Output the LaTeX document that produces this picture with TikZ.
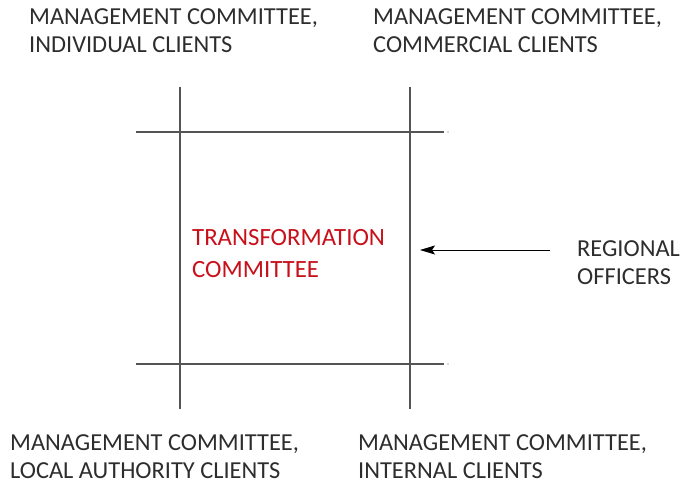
\documentclass[tikz,border=0pt]{standalone}
\usepackage{fontspec}
\setmainfont{Carlito}
\usetikzlibrary{arrows.meta}
\definecolor{inkgray}{RGB}{45,45,45}
\definecolor{rulegray}{RGB}{85,85,85}
\definecolor{tcred}{RGB}{200,16,26}
\begin{document}
\begin{tikzpicture}[x=1pt,y=-1pt,
  label/.style={anchor=base west,inner sep=0pt,align=left,text=inkgray,
    font=\fontsize{24.4}{28}\selectfont},
  grid/.style={draw=rulegray,line width=1.3pt},
  feed/.style={draw=black,line width=0.9pt,-{Stealth[length=15pt,width=9pt,inset=3pt]}}]
\useasboundingbox (0,0) rectangle (682,486);
% quadrant labels (anchored at the baseline of their last line)
\node[label] (ind) at (29,53) {MANAGEMENT COMMITTEE,\\INDIVIDUAL CLIENTS};
\node[label] (com) at (373,53) {MANAGEMENT COMMITTEE,\\COMMERCIAL CLIENTS};
\node[label] (loc) at (10,478.5) {MANAGEMENT COMMITTEE,\\LOCAL AUTHORITY CLIENTS};
\node[label] (int) at (358,478.5) {MANAGEMENT COMMITTEE,\\INTERNAL CLIENTS};
% central committee
\node[label,text=tcred,font=\fontsize{24.8}{32}\selectfont] (tc) at (192,277.5) {TRANSFORMATION\\COMMITTEE};
% regional input
\node[label] (reg) at (577,284) {REGIONAL\\OFFICERS};
% frame lines
\coordinate (v1t) at (180,87);  \coordinate (v1b) at (180,409);
\coordinate (v2t) at (410,87);  \coordinate (v2b) at (410,409);
\coordinate (h1l) at (136,132); \coordinate (h1r) at (444,132);
\coordinate (h2l) at (136,364); \coordinate (h2r) at (444,364);
\draw[grid] (v1t) -- (v1b);
\draw[grid] (v2t) -- (v2b);
\draw[grid] (h1l) -- (h1r);
\draw[grid] (h2l) -- (h2r);
\fill[rulegray] (448,132) circle (0.6pt);
\fill[rulegray] (448,364) circle (0.6pt);
% arrow
\coordinate (arrs) at (550,250);
\coordinate (arre) at (420,250);
\draw[feed] (arrs) -- (arre);
\end{tikzpicture}
\end{document}
